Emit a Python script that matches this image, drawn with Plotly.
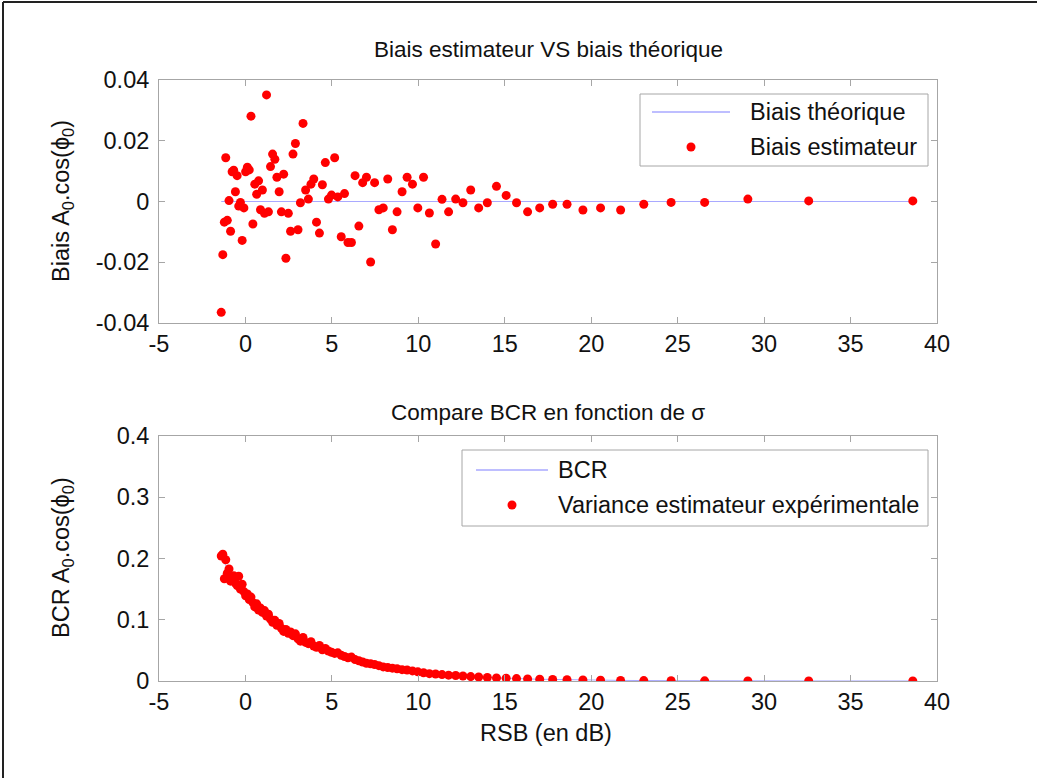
import plotly.graph_objects as go

# ---------------- data ----------------
rsb_db = [-1.40, -1.31, -1.22, -1.14, -1.05, -0.95, -0.86, -0.77, -0.68, -0.58,
          -0.48, -0.39, -0.29, -0.19, -0.09, 0.01, 0.11, 0.22, 0.32, 0.43,
          0.54, 0.65, 0.76, 0.87, 0.98, 1.10, 1.22, 1.33, 1.45, 1.57,
          1.70, 1.82, 1.95, 2.08, 2.21, 2.34, 2.48, 2.61, 2.75, 2.89,
          3.04, 3.18, 3.33, 3.48, 3.64, 3.79, 3.95, 4.11, 4.28, 4.45,
          4.62, 4.80, 4.98, 5.16, 5.34, 5.54, 5.73, 5.93, 6.13, 6.34,
          6.56, 6.78, 7.00, 7.24, 7.47, 7.72, 7.97, 8.23, 8.50, 8.77,
          9.06, 9.35, 9.66, 9.97, 10.30, 10.64, 11.00, 11.37, 11.75, 12.16,
          12.58, 13.03, 13.49, 13.99, 14.52, 15.08, 15.68, 16.32, 17.02, 17.77,
          18.60, 19.52, 20.54, 21.70, 23.04, 24.62, 26.56, 29.06, 32.58, 38.60]

bias_estimator = [-0.0365, -0.0175, -0.0068, 0.0144, -0.0062, 0.0003, -0.0098, 0.0098, 0.0103, 0.0032,
                  0.0085, -0.0015, -0.0003, -0.0128, -0.0021, 0.0098, 0.0113, 0.0104, 0.0281, -0.0074,
                  0.0057, 0.0024, 0.0068, -0.0027, 0.0038, -0.0039, 0.0351, -0.0034, 0.0115, 0.0156,
                  0.0139, 0.0080, 0.0032, -0.0034, 0.0090, -0.0187, -0.0039, -0.0098, 0.0156, 0.0191,
                  -0.0093, -0.0004, 0.0257, 0.0038, 0.0008, 0.0057, 0.0074, -0.0068, -0.0104, 0.0055,
                  0.0128, 0.0008, 0.0021, 0.0144, 0.0015, -0.0116, 0.0026, -0.0135, -0.0135, 0.0085,
                  -0.0081, 0.0062, 0.0080, -0.0199, 0.0062, -0.0027, -0.0021, 0.0074, -0.0093, -0.0034,
                  0.0032, 0.0080, 0.0057, -0.0021, 0.0080, -0.0038, -0.0140, 0.0007, -0.0034, 0.0008,
                  -0.0004, 0.0038, -0.0021, -0.0004, 0.0050, 0.0020, -0.0004, -0.0034, -0.0021, -0.0009,
                  -0.0009, -0.0028, -0.0021, -0.0028, -0.0009, -0.0003, -0.0003, 0.0008, 0.0002, 0.0002]

theoretical_bias = [0.0] * len(rsb_db)

variance_exp = [0.204, 0.207, 0.167, 0.198, 0.176, 0.183, 0.163, 0.168, 0.172, 0.160,
                0.156, 0.171, 0.150, 0.158, 0.146, 0.139, 0.142, 0.133, 0.137, 0.128,
                0.121, 0.126, 0.116, 0.119, 0.112, 0.115, 0.106, 0.109, 0.101, 0.096,
                0.099, 0.091, 0.094, 0.086, 0.081, 0.084, 0.078, 0.080, 0.074, 0.077,
                0.069, 0.065, 0.071, 0.063, 0.061, 0.064, 0.057, 0.055, 0.058, 0.051,
                0.053, 0.049, 0.047, 0.045, 0.046, 0.042, 0.040, 0.038, 0.039, 0.035,
                0.033, 0.031, 0.029, 0.028, 0.027, 0.025, 0.023, 0.022, 0.021, 0.020,
                0.0185, 0.018, 0.0165, 0.015, 0.0135, 0.012, 0.0115, 0.0105, 0.0095, 0.009,
                0.0082, 0.0072, 0.0066, 0.0058, 0.0051, 0.0046, 0.0039, 0.0034, 0.0029, 0.0024,
                0.0020, 0.0016, 0.0013, 0.0010, 0.0007, 0.0005, 0.0003, 0.0002, 0.0001, 0.00002]

bcr = [0.2, 0.19602, 0.19208, 0.18818, 0.18432, 0.1805, 0.17672, 0.17298, 0.16928, 0.16562,
       0.162, 0.15842, 0.15488, 0.15138, 0.14792, 0.1445, 0.14112, 0.13778, 0.13448, 0.13122,
       0.128, 0.12482, 0.12168, 0.11858, 0.11552, 0.1125, 0.10952, 0.10658, 0.10368, 0.10082,
       0.098, 0.09522, 0.09248, 0.08978, 0.08712, 0.0845, 0.08192, 0.07938, 0.07688, 0.07442,
       0.072, 0.06962, 0.06728, 0.06498, 0.06272, 0.0605, 0.05832, 0.05618, 0.05408, 0.05202,
       0.05, 0.04802, 0.04608, 0.04418, 0.04232, 0.0405, 0.03872, 0.03698, 0.03528, 0.03362,
       0.032, 0.03042, 0.02888, 0.02738, 0.02592, 0.0245, 0.02312, 0.02178, 0.02048, 0.01922,
       0.018, 0.01682, 0.01568, 0.01458, 0.01352, 0.0125, 0.01152, 0.01058, 0.00968, 0.00882,
       0.008, 0.00722, 0.00648, 0.00578, 0.00512, 0.0045, 0.00392, 0.00338, 0.00288, 0.00242,
       0.002, 0.00162, 0.00128, 0.00098, 0.00072, 0.0005, 0.00032, 0.00018, 0.00008, 0.00002]

x_tickvals = [-5, 0, 5, 10, 15, 20, 25, 30, 35, 40]
x_ticktext = ["-5", "0", "5", "10", "15", "20", "25", "30", "35", "40"]
y1_tickvals = [-0.04, -0.02, 0, 0.02, 0.04]
y1_ticktext = ["-0.04", "-0.02", "0", "0.02", "0.04"]
y2_tickvals = [0, 0.1, 0.2, 0.3, 0.4]
y2_ticktext = ["0", "0.1", "0.2", "0.3", "0.4"]

title_top = "Biais estimateur VS biais théorique"
title_bottom = "Compare BCR en fonction de σ"
ylabel_top = "Biais A<sub>0</sub>.cos(ϕ<sub>0</sub>)"
ylabel_bottom = "BCR A<sub>0</sub>.cos(ϕ<sub>0</sub>)"
xlabel = "RSB (en dB)"
legend_top = ["Biais théorique", "Biais estimateur"]
legend_bottom = ["BCR", "Variance estimateur expérimentale"]

# ---------------- styling ----------------
W, H = 1037, 778
FONT = "Liberation Sans, Arial, sans-serif"
FS = 23.5
FS_TITLE = 22.5
LINE_BLUE = "#a9a9ff"
DOT_RED = "#ff0000"
AX_GRAY = "#a6a6a6"
TXT = "#111111"


def px(x):
    return x / W


def py(y):
    return 1 - y / H


fig = go.Figure()

fig.add_trace(go.Scatter(x=rsb_db, y=theoretical_bias, mode="lines", name=legend_top[0],
                         line=dict(color=LINE_BLUE, width=1), xaxis="x", yaxis="y",
                         showlegend=False))
fig.add_trace(go.Scatter(x=rsb_db, y=bias_estimator, mode="markers", name=legend_top[1],
                         marker=dict(color=DOT_RED, size=9), xaxis="x", yaxis="y",
                         showlegend=False))
fig.add_trace(go.Scatter(x=rsb_db, y=bcr, mode="lines", name=legend_bottom[0],
                         line=dict(color=LINE_BLUE, width=1), xaxis="x2", yaxis="y2",
                         showlegend=False))
fig.add_trace(go.Scatter(x=rsb_db, y=variance_exp, mode="markers", name=legend_bottom[1],
                         marker=dict(color=DOT_RED, size=9), xaxis="x2", yaxis="y2",
                         showlegend=False))

xdom = [px(159), px(937)]
axis_common = dict(showgrid=False, zeroline=False, showline=True, linecolor=AX_GRAY,
                   linewidth=1, mirror="ticks", ticks="inside", ticklen=6,
                   tickcolor=AX_GRAY, tickwidth=1,
                   tickfont=dict(family=FONT, size=FS, color=TXT))

fig.update_layout(
    width=W, height=H,
    margin=dict(l=0, r=0, t=0, b=0, autoexpand=False),
    paper_bgcolor="white", plot_bgcolor="white",
    showlegend=False,
    xaxis=dict(domain=xdom, anchor="y", range=[-5, 40], tickvals=x_tickvals,
               ticktext=x_ticktext, ticklabelstandoff=0, **axis_common),
    yaxis=dict(domain=[py(323), py(80)], anchor="x", range=[-0.04, 0.04],
               tickvals=y1_tickvals, ticktext=y1_ticktext, ticklabelstandoff=4,
               **axis_common),
    xaxis2=dict(domain=xdom, anchor="y2", range=[-5, 40], tickvals=x_tickvals,
                ticktext=x_ticktext, ticklabelstandoff=0, **axis_common),
    yaxis2=dict(domain=[py(681), py(436)], anchor="x2", range=[0, 0.4],
                tickvals=y2_tickvals, ticktext=y2_ticktext, ticklabelstandoff=4,
                **axis_common),
)

shapes = []
annots = []


def text(x, y, s, xanchor="center", angle=0, size=FS):
    annots.append(dict(x=px(x), y=py(y), xref="paper", yref="paper", text=s,
                       showarrow=False, xanchor=xanchor, yanchor="middle",
                       textangle=angle, font=dict(family=FONT, size=size, color=TXT)))


# titles and axis labels
text(548, 50, title_top, size=FS_TITLE)
text(548, 412, title_bottom, size=FS_TITLE)
text(546, 733, xlabel)
text(62, 201, ylabel_top, angle=-90)
text(62, 558, ylabel_bottom, angle=-90)


# legends (drawn MATLAB-style)
def legend_box(x0, y0, x1, y1, entries):
    shapes.append(dict(type="rect", xref="paper", yref="paper", x0=px(x0), x1=px(x1),
                       y0=py(y1), y1=py(y0), line=dict(color=AX_GRAY, width=1),
                       fillcolor="white", layer="above"))
    for kind, lx0, lx1, ly, tx, label in entries:
        if kind == "line":
            shapes.append(dict(type="line", xref="paper", yref="paper", x0=px(lx0), x1=px(lx1),
                               y0=py(ly), y1=py(ly), line=dict(color=LINE_BLUE, width=1.5),
                               layer="above"))
        else:
            cx = (lx0 + lx1) / 2
            r = 4.5
            shapes.append(dict(type="circle", xref="paper", yref="paper",
                               x0=px(cx - r), x1=px(cx + r), y0=py(ly + r), y1=py(ly - r),
                               fillcolor=DOT_RED, line=dict(color=DOT_RED, width=0),
                               layer="above"))
        text(tx, ly, label, xanchor="left")


legend_box(640, 94, 928, 166, [("line", 652, 730, 112, 748, legend_top[0]),
                               ("dot", 652, 730, 147, 748, legend_top[1])])
legend_box(462, 450, 928, 526, [("line", 476, 548, 470, 556, legend_bottom[0]),
                                ("dot", 476, 548, 505, 556, legend_bottom[1])])

# figure frame (left and top edges)
shapes.append(dict(type="line", xref="paper", yref="paper", x0=px(3), x1=px(3), y0=0, y1=py(2),
                   line=dict(color="#222222", width=2)))
shapes.append(dict(type="line", xref="paper", yref="paper", x0=px(3), x1=1, y0=py(2), y1=py(2),
                   line=dict(color="#222222", width=2)))

fig.update_layout(shapes=shapes, annotations=annots)
fig.write_html(
    "out.html",
    config={"displayModeBar": False},
    post_script="document.body.style.margin='0px';"
                "document.documentElement.style.overflow='hidden';",
)
